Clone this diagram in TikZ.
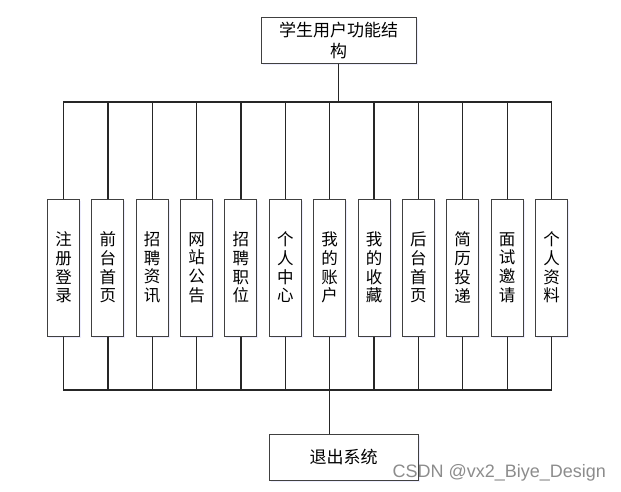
\documentclass[tikz,border=0pt]{standalone}
\usepackage{fontspec}
\setmainfont{Liberation Serif}
\newfontfamily\cjk{Noto Sans CJK SC}
\newfontfamily\wmfont{Liberation Sans}
\usepackage{tikz}
\usetikzlibrary{
    positioning,
    calc,
    shadows,
}
\tikzset{
    % Box styles
    block/.style={rectangle, draw=black!75, line width=1pt, fill=white,
                  inner sep=0pt, align=center, font=\cjk\fontsize{17}{21}\selectfont,
                  drop shadow={shadow xshift=1.5pt, shadow yshift=-1.5pt, fill=blue!20, opacity=0.35}},
    top block/.style={block, minimum width=155pt, minimum height=46pt},
    item block/.style={block, minimum width=32pt, minimum height=137pt,
                       font=\cjk\fontsize{16.5}{18.7}\selectfont},
    % Line styles
    link/.style={line width=1.2pt, black!85},
    annot/.style={font=\wmfont\fontsize{18}{20}\selectfont, text=black!45},
}

\begin{document}
\begin{tikzpicture}[x=1pt, y=-1pt]
    \useasboundingbox (0,0) rectangle (621,491);

    % Top
    \node[top block] (root) at (338.5, 40.5) {学生用户功能结\\构};
    \coordinate (topbus) at (root.south |- 0,102);

    % Functions
    \node[item block] (reg)    at (63.5, 267.5)  {注\\册\\登\\录};
    \node[item block] (home)   at (107.9, 267.5) {前\\台\\首\\页};
    \node[item block] (news)   at (152.2, 267.5) {招\\聘\\资\\讯};
    \node[item block] (notice) at (196.6, 267.5) {网\\站\\公\\告};
    \node[item block] (jobs)   at (240.9, 267.5) {招\\聘\\职\\位};
    \node[item block] (center) at (285.3, 267.5) {个\\人\\中\\心};
    \node[item block] (acct)   at (329.7, 267.5) {我\\的\\账\\户};
    \node[item block] (fav)    at (374.0, 267.5) {我\\的\\收\\藏};
    \node[item block] (back)   at (418.4, 267.5) {后\\台\\首\\页};
    \node[item block] (resume) at (462.7, 267.5) {简\\历\\投\\递};
    \node[item block] (invite) at (507.1, 267.5) {面\\试\\邀\\请};
    \node[item block] (info)   at (551.5, 267.5) {个\\人\\资\\料};

    % Bottom
    \node[block, minimum width=149pt, minimum height=46pt] (quit) at (343.6, 457) {退出系统};
    \coordinate (botbus) at (acct.south |- 0,390);

    \node[annot, anchor=base west] (mark) at (389, 477) {CSDN @vx2\_Biye\_Design};

    % Connectors
    \draw[link] (root.south) -- (topbus);
    \foreach \n in {reg, home, news, notice, jobs, center, acct, fav, back, resume, invite, info} {
        \draw[link] (topbus) -| (\n.north);
        \draw[link] (\n.south) |- (botbus);
    }
    \draw[link] (botbus) -- (quit.north -| botbus);
\end{tikzpicture}
\end{document}
